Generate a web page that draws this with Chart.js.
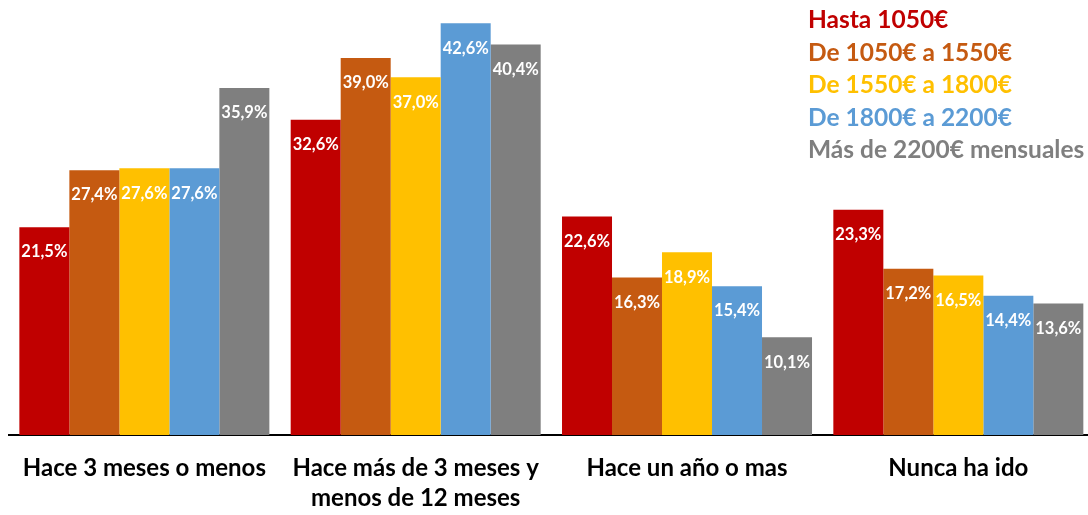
<!DOCTYPE html>
<html>
<head>
<meta charset="utf-8">
<script src="https://cdn.jsdelivr.net/npm/chart.js@4"></script>
<style>
  html, body { margin: 0; padding: 0; background: #fff; overflow: hidden; }
  #wrap { position: absolute; left: 0; top: 0; width: 1096px; height: 515px; }
  #legend { position: absolute; left: 808px; top: 3px; font-family: Lato, sans-serif; font-weight: bold; font-size: 24.5px; line-height: 32.5px; white-space: nowrap; }
</style>
</head>
<body>
<div id="wrap"><canvas id="chart"></canvas></div>
<div id="legend"></div>
<script>
const categories = [
  'Hace 3 meses o menos',
  ['Hace más de 3 meses y', 'menos de 12 meses'],
  'Hace un año o mas',
  'Nunca ha ido'
]
const seriesNames = ['Hasta 1050€', 'De 1050€ a 1550€', 'De 1550€ a 1800€', 'De 1800€ a 2200€', 'Más de 2200€ mensuales']
const seriesColors = ['#C00000', '#C55A11', '#FFC000', '#5B9BD5', '#7F7F7F']
const hasta1050 = [21.5, 32.6, 22.6, 23.3]
const de1050a1550 = [27.4, 39.0, 16.3, 17.2]
const de1550a1800 = [27.6, 37.0, 18.9, 16.5]
const de1800a2200 = [27.6, 42.6, 15.4, 14.4]
const mas2200 = [35.9, 40.4, 10.1, 13.6]
const seriesValues = [hasta1050, de1050a1550, de1550a1800, de1800a2200, mas2200]

// legend as plain coloured text, top right
let legend = document.getElementById('legend')
seriesNames.forEach((name, i) => {
  let div = document.createElement('div')
  div.innerText = name
  div.style.color = seriesColors[i]
  legend.appendChild(div)
})

// white value labels inside the top of each bar
const barLabels = {
  id: 'barLabels',
  afterDatasetsDraw(chart) {
    const ctx = chart.ctx
    ctx.save()
    ctx.font = 'bold 16.5px Lato, sans-serif'
    ctx.fillStyle = '#fff'
    ctx.textAlign = 'center'
    ctx.textBaseline = 'middle'
    chart.data.datasets.forEach((ds, i) => {
      chart.getDatasetMeta(i).data.forEach((bar, j) => {
        let txt = ds.data[j].toFixed(1).replace('.', ',') + '%'
        ctx.fillText(txt, bar.x, bar.y + 25)
      })
    })
    ctx.restore()
  }
}

const ctx = document.getElementById('chart').getContext('2d')
const myChart = new Chart(ctx, {
  type: 'bar',
  data: {
    labels: categories,
    datasets: seriesNames.map((name, i) => ({
      label: name,
      data: seriesValues[i],
      backgroundColor: seriesColors[i],
      borderWidth: 0,
      categoryPercentage: 0.9214,
      barPercentage: 1
    }))
  },
  options: {
    responsive: true,
    maintainAspectRatio: false,
    animation: false,
    layout: { padding: { left: 8.7, right: 2, top: 0, bottom: 0 } },
    plugins: {
      legend: { display: false },
      tooltip: { enabled: false }
    },
    scales: {
      x: {
        grid: { display: false, drawTicks: false },
        border: { display: true, color: '#000', width: 2 },
        ticks: {
          color: '#000',
          autoSkip: false,
          maxRotation: 0,
          padding: 19,
          font: { family: 'Lato, sans-serif', weight: 'bold', size: 24, lineHeight: 1.23 }
        },
        afterFit: (scale) => { scale.height = 80 }
      },
      y: {
        display: false,
        min: 0,
        max: 45
      }
    }
  },
  plugins: [barLabels]
})
</script>
</body>
</html>
